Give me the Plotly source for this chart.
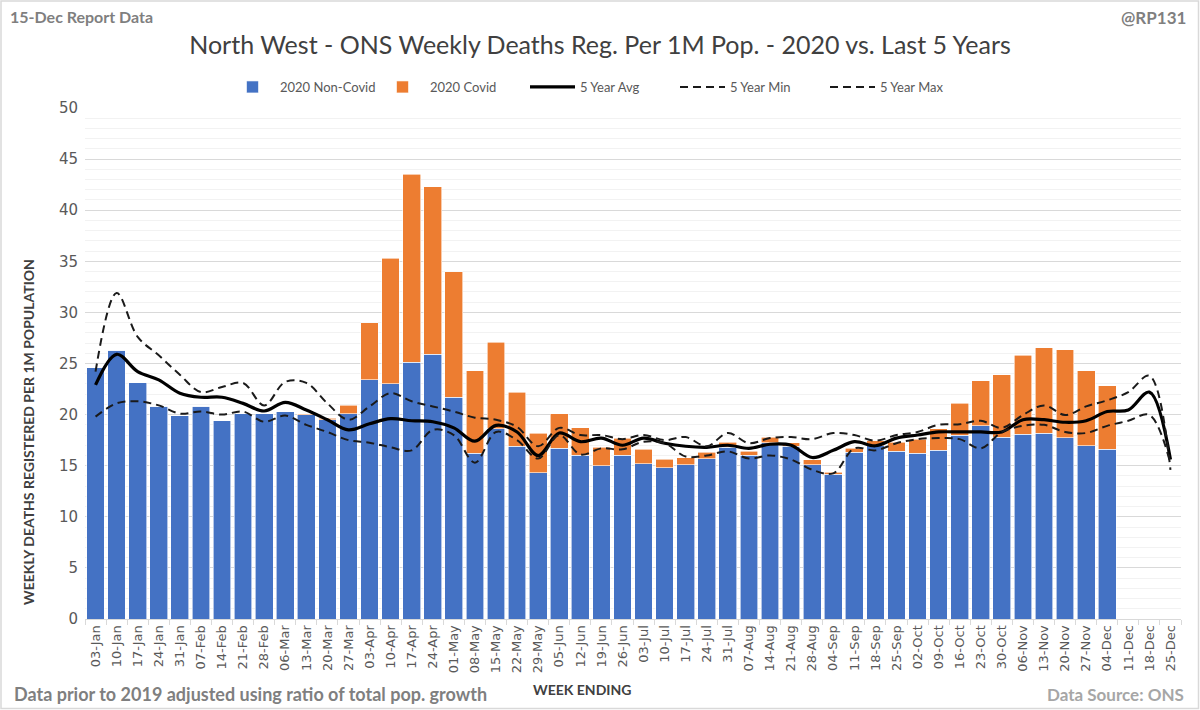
import plotly.graph_objects as go

weeks = ["03-Jan","10-Jan","17-Jan","24-Jan","31-Jan","07-Feb","14-Feb","21-Feb","28-Feb",
         "06-Mar","13-Mar","20-Mar","27-Mar","03-Apr","10-Apr","17-Apr","24-Apr","01-May",
         "08-May","15-May","22-May","29-May","05-Jun","12-Jun","19-Jun","26-Jun","03-Jul",
         "10-Jul","17-Jul","24-Jul","31-Jul","07-Aug","14-Aug","21-Aug","28-Aug","04-Sep",
         "11-Sep","18-Sep","25-Sep","02-Oct","09-Oct","16-Oct","23-Oct","30-Oct","06-Nov",
         "13-Nov","20-Nov","27-Nov","04-Dec","11-Dec","18-Dec","25-Dec"]

non_covid = [24.6, 26.3, 23.1, 20.8, 19.9, 20.8, 19.4, 20.1, 20.1, 20.3, 20.0, 19.5, 20.1,
             23.4, 23.0, 25.1, 25.9, 21.7, 16.2, 18.6, 16.9, 14.3, 16.7, 16.0, 15.0, 16.0,
             15.2, 14.8, 15.1, 15.7, 16.8, 16.0, 17.25, 16.9, 15.1, 14.15, 16.3, 16.95, 16.4,
             16.2, 16.5, 18.0, 18.9, 17.8, 18.1, 18.2, 17.75, 16.95, 16.6, None, None, None]

covid = [0, 0, 0, 0, 0, 0, 0, 0, 0, 0, 0.1, 0.15, 0.8,
         5.6, 12.3, 18.4, 16.4, 12.3, 8.1, 8.5, 5.3, 3.9, 3.4, 2.7, 1.8, 1.7,
         1.4, 0.85, 0.7, 0.6, 0.5, 0.4, 0.55, 0.35, 0.5, 0.2, 0.4, 0.5, 0.9,
         1.4, 2.1, 3.1, 4.4, 6.1, 7.7, 8.35, 8.6, 7.35, 6.2, None, None, None]

avg5 = [22.9, 25.9, 24.2, 23.4, 22.1, 21.7, 21.7, 21.1, 20.35, 21.2, 20.45, 19.5, 18.5,
        19.1, 19.6, 19.4, 19.3, 18.7, 17.4, 18.95, 18.3, 16.0, 18.2, 17.35, 17.7, 17.0,
        17.7, 17.2, 16.9, 16.8, 17.0, 16.7, 17.1, 17.0, 15.8, 16.5, 17.35, 16.95, 17.7,
        18.0, 18.3, 18.3, 18.3, 18.3, 19.5, 19.5, 19.25, 19.4, 20.3, 20.45, 22.2, 15.6]

min5 = [19.8, 21.1, 21.3, 20.9, 20.1, 20.3, 20.0, 20.3, 19.3, 19.9, 19.0, 18.3, 17.5,
        17.25, 16.8, 16.5, 18.5, 18.0, 15.3, 18.3, 17.5, 15.7, 18.0, 16.1, 16.7, 16.6,
        17.35, 17.2, 15.9, 16.0, 16.4, 15.7, 16.0, 15.6, 14.6, 14.25, 16.7, 16.5, 17.2,
        17.6, 17.7, 17.6, 16.7, 18.3, 18.9, 19.0, 18.3, 18.2, 18.9, 19.4, 19.96, 15.2]

max5 = [24.2, 31.9, 27.6, 25.8, 23.9, 22.2, 22.7, 23.1, 20.9, 23.2, 23.1, 21.1, 19.5,
        20.8, 22.1, 21.3, 20.8, 20.3, 19.7, 19.5, 18.8, 16.9, 18.7, 18.0, 18.0, 17.6,
        18.0, 17.5, 17.8, 16.9, 18.2, 17.2, 17.7, 17.8, 17.6, 18.2, 18.0, 17.45, 18.0,
        18.3, 19.0, 19.05, 19.4, 18.7, 19.96, 20.9, 19.96, 20.8, 21.4, 22.2, 23.8, 14.6]

W, H = 1200, 710
L, R, T, B = 85, 19, 108, 91
PW, PH = W - L - R, H - T - B


def px(x):
    return (x - L) / PW


def py(y):
    return (H - B - y) / PH


CAL = "Lato, sans-serif"
GRAY = "#595959"
DASH = "8px,5px"

fig = go.Figure()
fig.add_trace(go.Bar(x=weeks, y=non_covid, name="2020 Non-Covid",
                     marker=dict(color="#4472C4", line=dict(color="#ffffff", width=0.6))))
fig.add_trace(go.Bar(x=weeks, y=covid, name="2020 Covid",
                     marker=dict(color="#ED7D31", line=dict(color="#ffffff", width=0.6))))
fig.add_trace(go.Scatter(x=weeks, y=avg5, name="5 Year Avg", mode="lines",
                         line=dict(color="#000000", width=3.2, shape="spline", smoothing=1)))
fig.add_trace(go.Scatter(x=weeks, y=min5, name="5 Year Min", mode="lines",
                         line=dict(color="#1a1a1a", width=2, dash=DASH, shape="spline", smoothing=1)))
fig.add_trace(go.Scatter(x=weeks, y=max5, name="5 Year Max", mode="lines",
                         line=dict(color="#1a1a1a", width=2, dash=DASH, shape="spline", smoothing=1)))

fig.update_layout(
    width=W, height=H,
    margin=dict(l=L, r=R, t=T, b=B, autoexpand=False),
    paper_bgcolor="white", plot_bgcolor="white",
    barmode="stack", bargap=0.16,
    showlegend=True,
    legend=dict(orientation="h", x=0.5, xanchor="center", xref="container",
                y=1 - 87 / H, yref="container", yanchor="middle",
                font=dict(family=CAL, size=13, color=GRAY),
                itemwidth=45, entrywidth=90, traceorder="normal"),
    title=dict(text="North West - ONS Weekly Deaths Reg. Per 1M Pop. - 2020 vs. Last 5 Years",
               x=0.5, xanchor="center", xref="container",
               y=1 - 45 / H, yref="container", yanchor="middle",
               font=dict(family=CAL, size=25, color="#404040")),
    xaxis=dict(type="category", tickangle=-90,
               tickfont=dict(family="DejaVu Sans", size=13, color=GRAY),
               showline=True, linecolor="#D9D9D9", linewidth=1,
               ticks="outside", tickson="boundaries", ticklen=5, tickcolor="#D9D9D9",
               showgrid=False, fixedrange=True),
    yaxis=dict(range=[0, 50], dtick=5, tickfont=dict(family="DejaVu Sans", size=15, color=GRAY),
               showgrid=True, gridcolor="#D9D9D9", gridwidth=1,
               minor=dict(dtick=1, showgrid=True, gridcolor="#F2F2F2", gridwidth=1),
               zeroline=False, ticks="", ticklabelstandoff=6),
    annotations=[
        dict(text="WEEKLY DEATHS REGISTERED PER 1M POPULATION", textangle=-90,
             x=px(28), y=py(432), xref="paper", yref="paper", showarrow=False,
             xanchor="center", yanchor="middle",
             font=dict(family=CAL, size=14, color="#404040", weight="bold")),
        dict(text="WEEK ENDING", x=px(582), y=py(689), xref="paper", yref="paper",
             showarrow=False, xanchor="center", yanchor="middle",
             font=dict(family=CAL, size=14, color="#404040", weight="bold")),
        dict(text="15-Dec Report Data", x=px(8), y=py(17), xref="paper", yref="paper",
             showarrow=False, xanchor="left", yanchor="middle",
             font=dict(family=CAL, size=16, color="#7F7F7F", weight="bold")),
        dict(text="@RP131", x=px(1188), y=py(18), xref="paper", yref="paper",
             showarrow=False, xanchor="right", yanchor="middle",
             font=dict(family=CAL, size=17, color="#7F7F7F", weight="bold")),
        dict(text="Data prior to 2019 adjusted using ratio of total pop. growth",
             x=px(12), y=py(694), xref="paper", yref="paper",
             showarrow=False, xanchor="left", yanchor="middle",
             font=dict(family=CAL, size=18, color="#7F7F7F", weight="bold")),
        dict(text="Data Source: ONS", x=px(1186), y=py(694), xref="paper", yref="paper",
             showarrow=False, xanchor="right", yanchor="middle",
             font=dict(family=CAL, size=17, color="#A6A6A6", weight="bold")),
    ],
    shapes=[dict(type="rect", xref="paper", yref="paper",
                 x0=px(1), x1=px(W - 1.5), y0=py(H - 1.5), y1=py(1),
                 line=dict(color="#D9D9D9", width=1.5), fillcolor="rgba(0,0,0,0)", layer="below")],
)

fig.write_html("out.html", config={"displayModeBar": False},
               post_script="document.body.style.margin='0';document.body.style.overflow='hidden';")
